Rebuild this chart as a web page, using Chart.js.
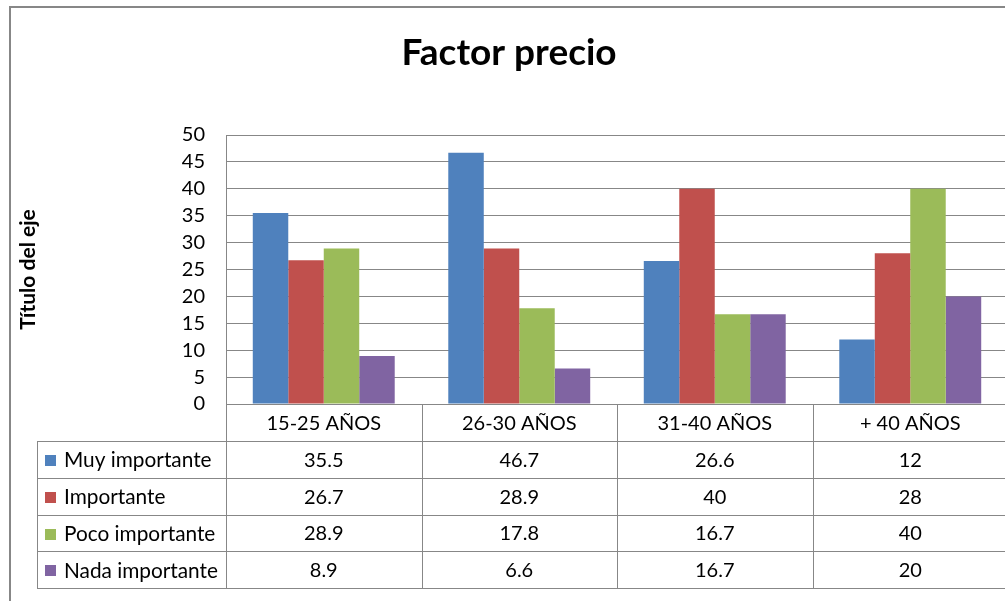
<!DOCTYPE html>
<html>
<head>
<meta charset="utf-8">
<script src="https://cdn.jsdelivr.net/npm/chart.js@4/dist/chart.umd.min.js"></script>
<style>
  html, body { margin: 0; padding: 0; background: #fff; overflow: hidden; width: 1005px; height: 601px; }
  #wrap { position: absolute; left: 0; top: 0; width: 1030px; height: 601px; }
</style>
</head>
<body>
<div id="wrap"><canvas id="c" width="1030" height="601"></canvas></div>
<script>
const chartTitle = 'Factor precio';
const yAxisTitle = 'Título del eje';
const categories = ['15-25 AÑOS', '26-30 AÑOS', '31-40 AÑOS', '+ 40 AÑOS'];
const seriesNames = ['Muy importante', 'Importante', 'Poco importante', 'Nada importante'];
const muyImportante = [35.5, 46.7, 26.6, 12];
const importante = [26.7, 28.9, 40, 28];
const pocoImportante = [28.9, 17.8, 16.7, 40];
const nadaImportante = [8.9, 6.6, 16.7, 20];
const seriesColors = ['#4F81BD', '#C0504D', '#9BBB59', '#8064A2'];
const yMin = 0, yMax = 50, yStep = 5;

const seriesValues = [muyImportante, importante, pocoImportante, nadaImportante];
const FONT = 'Lato, "Open Sans", sans-serif';
const GRID = '#878787';
const TABLE_ROW_H = 36.8;

const tablePlugin = {
  id: 'tablePlugin',
  beforeDraw(chart) {
    const ctx = chart.ctx;
    ctx.save();
    ctx.fillStyle = '#fff';
    ctx.fillRect(0, 0, chart.width, chart.height);
    ctx.strokeStyle = '#878787';
    ctx.lineWidth = 2;
    ctx.strokeRect(10, 7, 1200, 800);
    // title
    ctx.fillStyle = '#000';
    ctx.font = 'bold 37px ' + FONT;
    ctx.textAlign = 'center';
    ctx.textBaseline = 'alphabetic';
    ctx.fillText(chartTitle, 509, 65);
    ctx.restore();
  },
  afterDraw(chart) {
    const ctx = chart.ctx;
    const area = chart.chartArea;
    const xs = chart.scales.x;
    const n = categories.length;
    const step = xs.getPixelForValue(1) - xs.getPixelForValue(0);
    const top = area.bottom;
    const headerBottom = top + 37;
    const tableBottom = headerBottom + TABLE_ROW_H * seriesNames.length;
    const legendLeft = 37;
    const px = v => Math.round(v) + 0.5;
    ctx.save();
    ctx.strokeStyle = GRID;
    ctx.lineWidth = 1;
    ctx.beginPath();
    // left axis line through plot and table
    ctx.moveTo(px(area.left), area.top);
    ctx.lineTo(px(area.left), tableBottom);
    // category separators
    for (let i = 0; i < n; i++) {
      const b = xs.getPixelForValue(i) + step / 2;
      ctx.moveTo(px(b), top);
      ctx.lineTo(px(b), tableBottom);
    }
    // legend column left
    ctx.moveTo(px(legendLeft), headerBottom);
    ctx.lineTo(px(legendLeft), tableBottom);
    // horizontal rows
    for (let r = 0; r <= seriesNames.length; r++) {
      const y = headerBottom + r * TABLE_ROW_H;
      ctx.moveTo(legendLeft, px(y));
      ctx.lineTo(area.right + 30, px(y));
    }
    ctx.stroke();

    ctx.fillStyle = '#000';
    ctx.font = '20px ' + FONT;
    ctx.textBaseline = 'middle';
    ctx.textAlign = 'center';
    for (let i = 0; i < n; i++) {
      ctx.fillText(categories[i], xs.getPixelForValue(i), (top + headerBottom) / 2 + 1);
    }
    for (let r = 0; r < seriesNames.length; r++) {
      const cy = headerBottom + (r + 0.5) * TABLE_ROW_H + 1;
      ctx.fillStyle = seriesColors[r];
      ctx.fillRect(45, Math.round(cy - 5.5), 11, 11);
      ctx.fillStyle = '#000';
      ctx.textAlign = 'left';
      ctx.font = '20.8px ' + FONT;
      ctx.fillText(seriesNames[r], 64, cy);
      ctx.font = '20px ' + FONT;
      ctx.textAlign = 'center';
      for (let i = 0; i < n; i++) {
        ctx.fillText(String(seriesValues[r][i]), xs.getPixelForValue(i), cy);
      }
    }
    ctx.restore();
  }
};

new Chart(document.getElementById('c'), {
  type: 'bar',
  data: {
    labels: categories,
    datasets: seriesNames.map((name, k) => ({
      label: name,
      data: seriesValues[k],
      backgroundColor: seriesColors[k],
      borderWidth: 0,
      categoryPercentage: 0.726,
      barPercentage: 1.0
    }))
  },
  options: {
    responsive: false,
    animation: false,
    devicePixelRatio: 1,
    layout: { padding: { left: 10, right: 22, top: 135, bottom: 0 } },
    plugins: {
      legend: { display: false },
      title: { display: false },
      tooltip: { enabled: false }
    },
    scales: {
      x: {
        type: 'category',
        offset: true,
        grid: { display: false },
        border: { display: false },
        ticks: { display: false },
        afterFit(scale) { scale.height = 601 - 404; }
      },
      y: {
        min: yMin,
        max: yMax,
        ticks: {
          stepSize: yStep,
          autoSkip: false,
          color: '#000',
          padding: 21,
          font: { family: FONT, size: 20 }
        },
        grid: { color: GRID, lineWidth: 1, drawTicks: false },
        border: { display: false },
        title: {
          display: true,
          text: yAxisTitle,
          color: '#000',
          padding: { top: 6, bottom: 0 },
          font: { family: FONT, size: 21, weight: 'bold' }
        },
        afterFit(scale) { scale.width = 226 - 10; }
      }
    }
  },
  plugins: [tablePlugin]
});
</script>
</body>
</html>
